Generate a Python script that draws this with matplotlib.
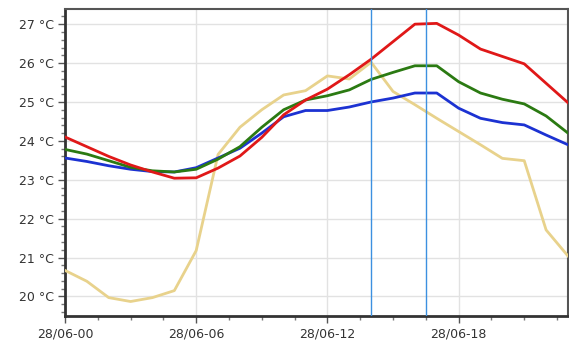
import matplotlib
matplotlib.use("Agg")
import matplotlib.pyplot as plt
import numpy as np
from matplotlib.ticker import MultipleLocator, FuncFormatter

# hourly readings, 28/06 00h .. 23h
hours = list(range(24))
red = [24.1, 23.85, 23.6, 23.38, 23.2, 23.04, 23.05, 23.3, 23.61, 24.09, 24.67, 25.05,
       25.33, 25.7, 26.1, 26.55, 27.0, 27.02, 26.72, 26.36, 26.17, 25.98, 25.48, 24.98]
green = [23.78, 23.66, 23.49, 23.32, 23.23, 23.2, 23.27, 23.53, 23.85, 24.35, 24.8, 25.05,
         25.16, 25.31, 25.58, 25.76, 25.93, 25.93, 25.52, 25.23, 25.07, 24.95, 24.64, 24.2]
blue = [23.56, 23.47, 23.36, 23.27, 23.21, 23.2, 23.31, 23.56, 23.81, 24.2, 24.62, 24.78,
        24.78, 24.87, 25.0, 25.1, 25.23, 25.23, 24.84, 24.58, 24.47, 24.41, 24.15, 23.9]
yellow = [20.67, 20.39, 19.97, 19.87, 19.97, 20.15, 21.18, 23.65, 24.35, 24.8, 25.18, 25.29,
          25.67, 25.59, 26.02, 25.27, 24.93, 24.58, 24.24, 23.9, 23.55, 23.49, 21.71, 21.04]
markers_h = [14, 16.5]
xtick_labels = ["28/06-00", "28/06-06", "28/06-12", "28/06-18"]

fig = plt.figure(figsize=(5.69, 3.46), dpi=100)
ax = fig.add_axes([0.1142, 0.087, 0.884, 0.887])

ax.plot(hours, yellow, color="#e8d28c", lw=2, zorder=3)
ax.plot(hours, blue, color="#1c32d2", lw=2, zorder=4)
ax.plot(hours, green, color="#2b7a12", lw=2, zorder=5)
ax.plot(hours, red, color="#e01818", lw=2, zorder=6)
for h in markers_h:
    ax.axvline(h, color="#3c90e0", lw=1, zorder=7)

ax.set_xlim(0, 23)
ax.set_ylim(19.5, 27.39)

ax.xaxis.set_major_locator(MultipleLocator(6))
ax.xaxis.set_minor_locator(MultipleLocator(1.5))
ax.xaxis.set_major_formatter(FuncFormatter(
    lambda v, p: xtick_labels[int(round(v / 6))] if 0 <= round(v / 6) < len(xtick_labels) else ""))
ax.yaxis.set_major_locator(MultipleLocator(1))
ax.yaxis.set_minor_locator(MultipleLocator(0.2))
ax.yaxis.set_major_formatter(FuncFormatter(lambda v, p: f"{v:.0f} °C"))

ax.grid(True, which="major", color="#e2e2e2", lw=1, zorder=0)
ax.set_axisbelow(True)

ax.tick_params(axis="both", which="major", length=5, width=1, color="#555555",
               labelsize=9, labelcolor="#333333", pad=3)
ax.tick_params(axis="both", which="minor", length=3, width=1, color="#777777")

for side in ["left", "bottom"]:
    ax.spines[side].set_linewidth(2)
    ax.spines[side].set_color("#333333")
for side in ["top", "right"]:
    ax.spines[side].set_linewidth(1.5)
    ax.spines[side].set_color("#555555")

fig.savefig("out.png", dpi=100)
